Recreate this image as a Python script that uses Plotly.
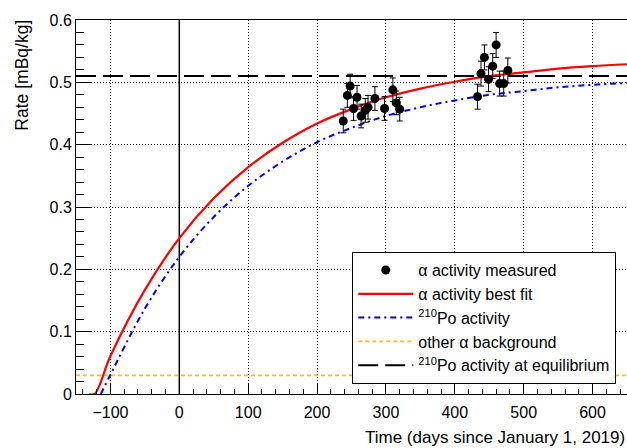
import plotly.graph_objects as go

# ---- data ----
measured_days = [238, 244, 248, 253, 258, 264, 270, 274, 284, 298, 310, 315, 320,
                 433, 438, 443, 449, 455, 460, 465, 471, 477]
measured_rate = [0.438, 0.479, 0.494, 0.458, 0.476, 0.446, 0.455, 0.460, 0.474, 0.458,
                 0.488, 0.467, 0.457,
                 0.477, 0.514, 0.540, 0.505, 0.526, 0.560, 0.498, 0.498, 0.519]
measured_err = [0.019, 0.019, 0.019, 0.019, 0.019, 0.019, 0.019, 0.019, 0.019, 0.019,
                0.019, 0.019, 0.019,
                0.020, 0.020, 0.020, 0.020, 0.020, 0.020, 0.020, 0.020, 0.020]

fit_days = [-131, -123, -100, -50, 0, 50, 100, 150, 200, 250, 300, 350, 400, 450, 500, 550, 600, 650]
fit_rate = [0.0, 0.0, 0.061, 0.167, 0.250, 0.314, 0.364, 0.403, 0.434, 0.457, 0.476, 0.490,
            0.501, 0.510, 0.516, 0.522, 0.526, 0.529]

po_days = [-114, -100, -50, 0, 50, 100, 150, 200, 250, 300, 350, 400, 450, 500, 550, 600, 650]
po_rate = [0.0, 0.031, 0.137, 0.220, 0.284, 0.334, 0.373, 0.404, 0.427, 0.446, 0.460, 0.471,
           0.480, 0.486, 0.492, 0.496, 0.499]

bkg_days = [-150, 650]
bkg_rate = [0.03, 0.03]

eq_days = [-150, 650]
eq_rate = [0.51, 0.51]

zero_day = [0, 0]
zero_line = [0.0, 0.6]

x_ticks = [-100, 0, 100, 200, 300, 400, 500, 600]
y_ticks = [0, 0.1, 0.2, 0.3, 0.4, 0.5, 0.6]
y_ticktext = ["0", "0.1", "0.2", "0.3", "0.4", "0.5", "0.6"]

FONT = "Liberation Sans, Arial, Helvetica, sans-serif"

fig = go.Figure()

fig.add_trace(go.Scatter(x=zero_day, y=zero_line, mode="lines",
                         line=dict(color="black", width=1.5), showlegend=False,
                         hoverinfo="skip"))
fig.add_trace(go.Scatter(x=bkg_days, y=bkg_rate, mode="lines",
                         name="other \u03b1 background", legendrank=4,
                         legendgroup="d",
                         line=dict(color="#FFC000", width=1.8, dash="4px,3px")))
fig.add_trace(go.Scatter(x=eq_days, y=eq_rate, mode="lines",
                         name="<sup>210</sup>Po activity at equilibrium", legendrank=5,
                         legendgroup="e",
                         line=dict(color="black", width=2, dash="20px,7px")))
fig.add_trace(go.Scatter(x=po_days, y=po_rate, mode="lines",
                         name="<sup>210</sup>Po activity", legendrank=3,
                         legendgroup="c",
                         line=dict(color="#0000FF", width=2, dash="6px,4px,2px,4px",
                                   shape="spline")))
fig.add_trace(go.Scatter(x=fit_days, y=fit_rate, mode="lines",
                         name="\u03b1 activity best fit", legendrank=2,
                         legendgroup="b",
                         line=dict(color="#FF0000", width=2.2, shape="spline")))
fig.add_trace(go.Scatter(x=measured_days, y=measured_rate, mode="markers",
                         name="\u03b1 activity measured", legendrank=1,
                         legendgroup="a",
                         marker=dict(color="black", size=9),
                         error_y=dict(type="data", array=measured_err, visible=True,
                                      color="black", thickness=1, width=3)))

fig.add_annotation(text="Time (days since January 1, 2019)", xref="paper", yref="paper",
                   x=1.0, y=-0.115, xanchor="right", yanchor="middle", showarrow=False,
                   font=dict(family=FONT, size=17, color="black"))
fig.add_annotation(text="Rate [mBq/kg]", xref="paper", yref="paper",
                   x=-0.098, y=1.005, xanchor="center", yanchor="top", textangle=-90,
                   showarrow=False, font=dict(family=FONT, size=17.5, color="black"))

fig.update_layout(
    width=627, height=448,
    margin=dict(l=76, r=0, t=20, b=54),
    paper_bgcolor="white", plot_bgcolor="white",
    font=dict(family=FONT, size=16, color="black"),
    showlegend=True,
    legend=dict(x=0.501, y=0.38, xanchor="left", yanchor="top",
                bgcolor="white", bordercolor="black", borderwidth=1.2,
                font=dict(family=FONT, size=16, color="black"),
                itemwidth=55, tracegroupgap=0, traceorder="normal"),
    xaxis=dict(range=[-150, 650], tickvals=x_ticks, ticks="inside", ticklen=11,
               tickwidth=1, tickcolor="black", showline=True, linecolor="black",
               linewidth=1, mirror=True, showgrid=True, gridcolor="black",
               gridwidth=1, griddash="1px,2px", zeroline=False,
               tickfont=dict(family=FONT, size=16, color="black"),
               ticklabelstandoff=4,
               minor=dict(dtick=20, ticks="inside", ticklen=5.5, tickcolor="black",
                          showgrid=False)),
    yaxis=dict(range=[0, 0.6], tickvals=y_ticks, ticktext=y_ticktext,
               ticks="inside", ticklen=16,
               tickwidth=1, tickcolor="black", showline=True, linecolor="black",
               linewidth=1, mirror=False, showgrid=True, gridcolor="black",
               gridwidth=1, griddash="1px,2px", zeroline=False,
               tickfont=dict(family=FONT, size=16, color="black"),
               minor=dict(dtick=0.02, ticks="inside", ticklen=8, tickcolor="black",
                          showgrid=False)),
)

fig.write_html("out.html",
               config={"displayModeBar": False},
               post_script="document.body.style.margin='0';"
                           "document.body.style.overflow='hidden';")
